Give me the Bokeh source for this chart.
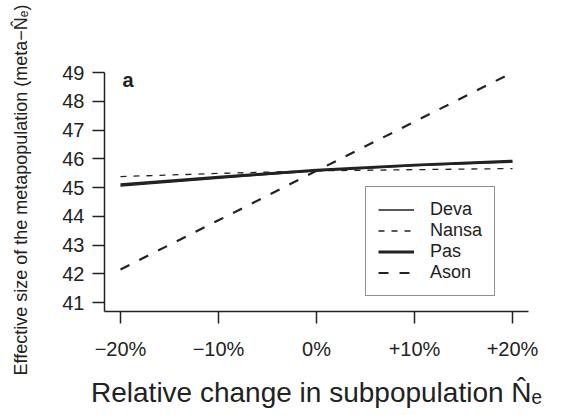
from bokeh.plotting import figure
from bokeh.models import Range1d, FixedTicker, Label, Legend, LegendItem
from bokeh.embed import file_html
from bokeh.resources import INLINE

# ---- data ----
change = [-20, -10, 0, 10, 20]
x_tick_labels = ["\u221220%", "\u221210%", "0%", "+10%", "+20%"]
y_ticks = [41, 42, 43, 44, 45, 46, 47, 48, 49]
deva = [45.05, 45.32, 45.58, 45.76, 45.88]
nansa = [45.38, 45.49, 45.58, 45.62, 45.66]
pas = [45.10, 45.36, 45.60, 45.78, 45.92]
ason = [42.15, 43.86, 45.58, 47.29, 49.00]
series_names = ["Deva", "Nansa", "Pas", "Ason"]
x_title = "Relative change in subpopulation N\u0302\u2091"
y_title = "Effective size of the metapopulation (meta\u2212N\u0302\u2091)"

FONT = "Liberation Sans"
INK = "#222222"

W, H = 560, 412
B_LEFT, B_RIGHT, B_TOP, B_BOTTOM = 104, 32, 68, 101
frame_w = W - B_LEFT - B_RIGHT
frame_h = H - B_TOP - B_BOTTOM
px_per_x = 9.8
px_per_y = 28.75
x_start = -(frame_w / 2) / px_per_x
x_end = -x_start
y_start = 41 - 9 / px_per_y
y_end = y_start + frame_h / px_per_y

p = figure(width=W, height=H, output_backend="svg", toolbar_location=None,
           x_range=Range1d(x_start, x_end), y_range=Range1d(y_start, y_end),
           min_border_left=B_LEFT, min_border_right=B_RIGHT,
           min_border_top=B_TOP, min_border_bottom=B_BOTTOM)
p.outline_line_color = None
p.grid.visible = False
p.background_fill_color = "white"
p.border_fill_color = "white"

for ax in (p.xaxis[0], p.yaxis[0]):
    ax.axis_line_color = INK
    ax.axis_line_width = 1.5
    ax.major_tick_line_color = INK
    ax.major_tick_line_width = 1.5
    ax.major_tick_out = 12
    ax.major_tick_in = 0
    ax.minor_tick_line_color = None
    ax.major_label_text_font = FONT
    ax.major_label_text_font_size = "20px"
    ax.major_label_text_color = INK
    ax.axis_label_text_font = FONT
    ax.axis_label_text_font_style = "normal"
    ax.axis_label_text_color = INK

p.xaxis.ticker = FixedTicker(ticks=change)
p.xaxis.major_label_overrides = {c: t for c, t in zip(change, x_tick_labels)}
p.xaxis.major_label_standoff = 14
p.xaxis.axis_label = x_title
p.xaxis.axis_label_text_font_size = "28px"
p.xaxis.axis_label_standoff = 14

p.yaxis.ticker = FixedTicker(ticks=y_ticks)
p.yaxis.bounds = (y_start, 49)
p.yaxis.major_label_standoff = 8
p.yaxis.axis_label = y_title
p.yaxis.axis_label_text_font_size = "18px"
p.yaxis.axis_label_standoff = 28

r_deva = p.line(change, deva, line_color=INK, line_width=1.3)
r_nansa = p.line(change, nansa, line_color=INK, line_width=1.3, line_dash="6 7")
r_pas = p.line(change, pas, line_color=INK, line_width=2.8)
r_ason = p.line(change, ason, line_color=INK, line_width=2.2, line_dash="10 11")

legend = Legend(items=[LegendItem(label=n, renderers=[r]) for n, r in
                       zip(series_names, [r_deva, r_nansa, r_pas, r_ason])],
                location=(261, 15), margin=0, padding=12, spacing=0,
                glyph_width=36, glyph_height=21, label_height=21,
                label_standoff=16, label_text_font=FONT,
                label_text_font_size="18px", label_text_color=INK,
                border_line_color=INK, border_line_width=1.5,
                background_fill_color="white", background_fill_alpha=1)
p.add_layout(legend)

# panel letter, placed relative to the frame corner
p.add_layout(Label(x=18, y=frame_h - 11, x_units="screen", y_units="screen",
                   text="a", text_font=FONT, text_font_size="20px",
                   text_font_style="bold", text_color=INK,
                   text_baseline="alphabetic"))

open("out.html", "w").write(file_html(p, INLINE))
